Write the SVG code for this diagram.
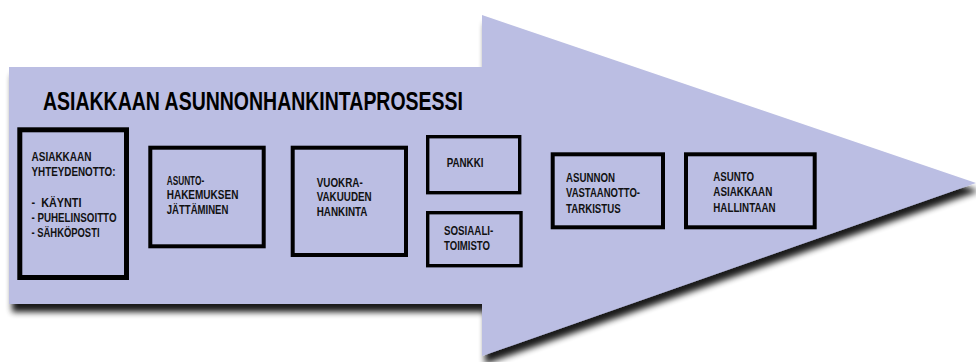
<svg xmlns="http://www.w3.org/2000/svg" width="976" height="362" viewBox="0 0 976 362">
  <defs>
    <filter id="dropShadow" x="-5%" y="-10%" width="115%" height="130%">
      <feGaussianBlur in="SourceAlpha" stdDeviation="3.2"/>
      <feOffset dx="3" dy="8" result="blur"/>
      <feComponentTransfer>
        <feFuncA type="linear" slope="0.9"/>
      </feComponentTransfer>
      <feMerge>
        <feMergeNode/>
        <feMergeNode in="SourceGraphic"/>
      </feMerge>
    </filter>
  </defs>
  <style>
    .box { fill: none; stroke: #000; stroke-linejoin: miter; }
    .lbl { font-family: "Liberation Sans", Arial, sans-serif; font-weight: bold; font-size: 13px; fill: #111; }
    .title { font-family: "Liberation Sans", Arial, sans-serif; font-weight: bold; font-size: 26px; fill: #000; }
  </style>

  <rect width="976" height="362" fill="#fff"/>

  <!-- Big process arrow in the background -->
  <g id="process-arrow">
    <polygon points="9,67 482,67 482,15 976,183 482,356 482,304 9,304" fill="#bbbee3" filter="url(#dropShadow)"/>
  </g>

  <g id="title">
    <text class="title" x="43" y="110" textLength="420" lengthAdjust="spacingAndGlyphs">ASIAKKAAN ASUNNONHANKINTAPROSESSI</text>
  </g>

  <!-- Process steps -->
  <g id="node-yhteydenotto">
    <rect class="box" x="19.8" y="129.8" width="106.7" height="147.7" stroke-width="5"/>
    <text class="lbl" x="31.5" y="160.5" textLength="60" lengthAdjust="spacingAndGlyphs">ASIAKKAAN</text>
    <text class="lbl" x="31.5" y="175.8" textLength="84" lengthAdjust="spacingAndGlyphs">YHTEYDENOTTO:</text>
    <text class="lbl" x="31.5" y="206.5" textLength="50" lengthAdjust="spacingAndGlyphs" xml:space="preserve">-  KÄYNTI</text>
    <text class="lbl" x="31.5" y="222" textLength="85" lengthAdjust="spacingAndGlyphs">- PUHELINSOITTO</text>
    <text class="lbl" x="31.5" y="237.3" textLength="68" lengthAdjust="spacingAndGlyphs">- SÄHKÖPOSTI</text>
  </g>

  <g id="node-hakemus">
    <rect class="box" x="150.3" y="147.7" width="113.4" height="98.6" stroke-width="4"/>
    <text class="lbl" x="166.7" y="184.5" textLength="37.5" lengthAdjust="spacingAndGlyphs">ASUNTO-</text>
    <text class="lbl" x="166.7" y="199.2" textLength="71.7" lengthAdjust="spacingAndGlyphs">HAKEMUKSEN</text>
    <text class="lbl" x="166.7" y="213.9" textLength="61.7" lengthAdjust="spacingAndGlyphs">JÄTTÄMINEN</text>
  </g>

  <g id="node-vuokravakuus">
    <rect class="box" x="292.7" y="147.7" width="113.3" height="107.3" stroke-width="4"/>
    <text class="lbl" x="316.7" y="186.5" textLength="46" lengthAdjust="spacingAndGlyphs">VUOKRA-</text>
    <text class="lbl" x="316.7" y="201" textLength="55" lengthAdjust="spacingAndGlyphs">VAKUUDEN</text>
    <text class="lbl" x="316.7" y="215.5" textLength="50.7" lengthAdjust="spacingAndGlyphs">HANKINTA</text>
  </g>

  <g id="node-pankki">
    <rect class="box" x="427.7" y="136.7" width="92" height="56" stroke-width="3.4"/>
    <text class="lbl" x="446.7" y="166.5" textLength="36.7" lengthAdjust="spacingAndGlyphs">PANKKI</text>
  </g>

  <g id="node-sosiaalitoimisto">
    <rect class="box" x="427.7" y="212.7" width="93.3" height="53" stroke-width="3.4"/>
    <text class="lbl" x="444" y="234.5" textLength="49.3" lengthAdjust="spacingAndGlyphs">SOSIAALI-</text>
    <text class="lbl" x="444" y="250" textLength="46" lengthAdjust="spacingAndGlyphs">TOIMISTO</text>
  </g>

  <g id="node-tarkistus">
    <rect class="box" x="552.7" y="154.3" width="110.3" height="73" stroke-width="4"/>
    <text class="lbl" x="566" y="181.5" textLength="49" lengthAdjust="spacingAndGlyphs">ASUNNON</text>
    <text class="lbl" x="566" y="197" textLength="74" lengthAdjust="spacingAndGlyphs">VASTAANOTTO-</text>
    <text class="lbl" x="566" y="212.5" textLength="54.7" lengthAdjust="spacingAndGlyphs">TARKISTUS</text>
  </g>

  <g id="node-hallinta">
    <rect class="box" x="686" y="154.3" width="128.7" height="73" stroke-width="4"/>
    <text class="lbl" x="713.3" y="180.5" textLength="40.7" lengthAdjust="spacingAndGlyphs">ASUNTO</text>
    <text class="lbl" x="713.3" y="196" textLength="59" lengthAdjust="spacingAndGlyphs">ASIAKKAAN</text>
    <text class="lbl" x="713.3" y="211.5" textLength="62.3" lengthAdjust="spacingAndGlyphs">HALLINTAAN</text>
  </g>
</svg>
